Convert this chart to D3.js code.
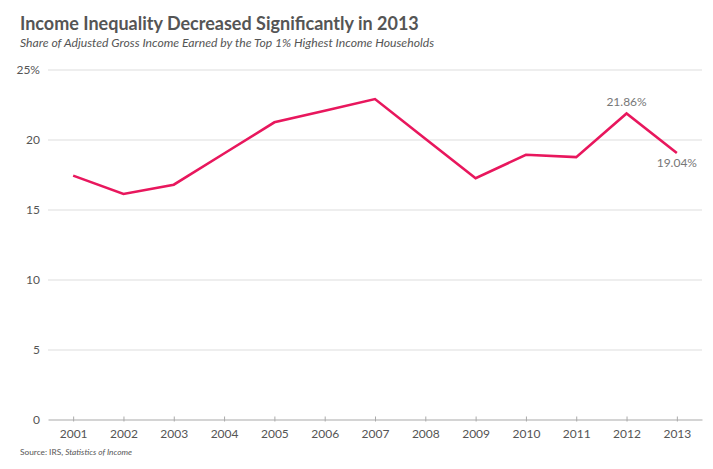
<!DOCTYPE html>
<html><head><meta charset="utf-8">
<script src="https://cdn.jsdelivr.net/npm/d3@7"></script>
<style>
body{margin:0;background:#fff;}
svg{display:block;font-family:Lato,"Open Sans",sans-serif;}
</style></head>
<body><svg id="c" width="713" height="469"></svg>
<script>
const years = ["2001","2002","2003","2004","2005","2006","2007","2008","2009","2010","2011","2012","2013"];
const shares = [17.42,16.11,16.77,19.0,21.23,22.06,22.89,20.06,17.23,18.91,18.74,21.86,19.04];
const yTicks = [0,5,10,15,20,25];
const labelled = ["2012","2013"];

const svg = d3.select("#c");
const x = d3.scalePoint().domain(years).range([48,702]).padding(0.5);
const y = d3.scaleLinear().domain([0,25]).range([419.5,69.5]);

svg.append("text").attr("x",20).attr("y",30).attr("font-size",18).attr("font-weight","bold")
  .attr("fill","#555").text("Income Inequality Decreased Significantly in 2013");
svg.append("text").attr("x",20).attr("y",47).attr("font-size",12.2).attr("font-style","italic")
  .attr("fill","#555").text("Share of Adjusted Gross Income Earned by the Top 1% Highest Income Households");

// grid
const ya = d3.axisLeft(y).tickValues(yTicks).tickSize(-654).tickPadding(8)
  .tickFormat(d => d===25 ? d+"%" : d);
const gy = svg.append("g").attr("transform","translate(48,0)").call(ya);
gy.select(".domain").remove();
gy.selectAll(".tick line").attr("stroke","#ddd").attr("stroke-width",1);
gy.selectAll(".tick text").attr("fill","#555").attr("font-size",12).attr("font-family","Lato,sans-serif");
gy.selectAll(".tick").filter(d=>d===0).select("line").remove();

const xa = d3.axisBottom(x).tickSize(4).tickSizeOuter(0).tickPadding(6);
const gx = svg.append("g").attr("transform","translate(0,419.5)").call(xa);
gx.select(".domain").attr("stroke","#aaa").attr("stroke-width",1.2);
gx.selectAll(".tick line").attr("stroke","#aaa").attr("y1",-3).attr("y2",2);
gx.selectAll(".tick text").attr("fill","#555").attr("font-size",12).attr("font-family","Lato,sans-serif");

const data = years.map((yr,i)=>({yr, v:shares[i]}));
svg.append("path").datum(data)
  .attr("fill","none").attr("stroke","#e8175d").attr("stroke-width",2.6)
  .attr("stroke-linejoin","miter")
  .attr("d", d3.line().x(d=>x(d.yr)).y(d=>y(d.v)));

svg.selectAll(".lab").data(data.filter(d=>labelled.includes(d.yr))).enter().append("text")
  .attr("x", d=>x(d.yr)).attr("y", (d,i)=> i===0 ? y(d.v)-7 : y(d.v)+14)
  .attr("text-anchor","middle").attr("font-size",12).attr("fill","#777")
  .text(d=>d.v.toFixed(2)+"%");

const src = svg.append("text").attr("x",20).attr("y",455).attr("font-size",8.3).attr("fill","#555");
src.append("tspan").text("Source: IRS, ");
src.append("tspan").attr("font-style","italic").text("Statistics of Income");
</script></body></html>
